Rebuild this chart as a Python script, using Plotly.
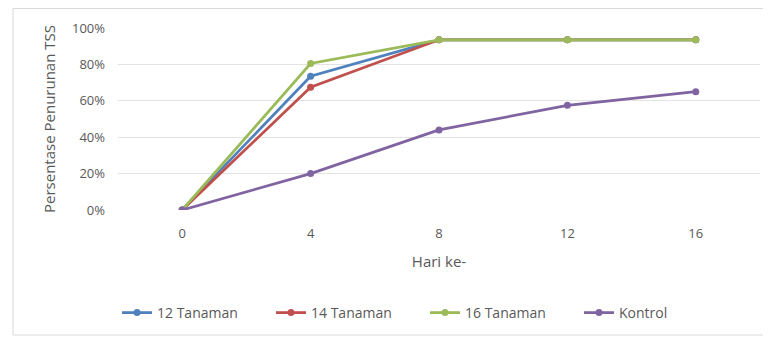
import plotly.graph_objects as go

hari = ["0", "4", "8", "12", "16"]
tanaman_12 = [0.0, 0.735, 0.935, 0.935, 0.935]
tanaman_14 = [0.0, 0.675, 0.935, 0.935, 0.935]
tanaman_16 = [0.0, 0.805, 0.935, 0.935, 0.935]
kontrol = [0.0, 0.20, 0.44, 0.575, 0.65]

series_names = ["12 Tanaman", "14 Tanaman", "16 Tanaman", "Kontrol"]
series_values = [tanaman_12, tanaman_14, tanaman_16, kontrol]
colors = ["#4F81BD", "#C0504D", "#9BBB59", "#8064A2"]

font_family = "Open Sans, Noto Sans, sans-serif"
text_color = "#595959"

fig = go.Figure()
for name, vals, col in zip(series_names, series_values, colors):
    fig.add_trace(go.Scatter(
        x=hari, y=vals, name=name, mode="lines+markers",
        line=dict(color=col, width=2.75),
        marker=dict(color=col, size=7, symbol="circle"),
    ))

# figure pixel coordinates (page body adds ~8px offset)
L, R, T, B = 110, 19, 20, 136
W, H = 771, 338
pw = W - L - R
ph = H - T - B

def px(p):
    return (p - L) / pw

def py(q):
    return (H - B - q) / ph

fig.update_layout(
    width=W, height=H,
    margin=dict(l=L, r=R, t=T, b=B, autoexpand=False),
    paper_bgcolor="white", plot_bgcolor="white",
    font=dict(family=font_family, size=14, color=text_color),
    showlegend=True,
    legend=dict(
        orientation="h", x=px(109), xanchor="left", y=py(305), yanchor="middle",
        entrywidth=109, entrywidthmode="pixels",
        font=dict(family=font_family, size=14, color=text_color),
        bgcolor="rgba(0,0,0,0)", itemwidth=30,
    ),
    xaxis=dict(
        type="category", range=[-0.5, 4.5], showgrid=False, zeroline=False,
        showline=False, ticks="", tickfont=dict(size=13, color=text_color),
        ticklabelstandoff=14,
        title=dict(text="Hari ke-", standoff=15, font=dict(size=15, color=text_color)),
    ),
    yaxis=dict(
        range=[0, 1.0], tickvals=[0, 0.2, 0.4, 0.6, 0.8, 1.0], tickformat=".0%",
        showgrid=True, gridcolor="#E3E3E3", gridwidth=1, zeroline=False,
        showline=False, ticks="", tickfont=dict(size=13, color=text_color),
        ticklabelstandoff=12,
        title=dict(text="Persentase Penurunan TSS", standoff=12,
                   font=dict(size=15, color=text_color)),
    ),
    shapes=[dict(
        type="rect", xref="paper", yref="paper",
        x0=px(5), x1=px(775), y0=py(327), y1=py(0.5),
        line=dict(color="#D9D9D9", width=1), fillcolor="rgba(0,0,0,0)", layer="below",
    )],
)

fig.write_html("out.html")
